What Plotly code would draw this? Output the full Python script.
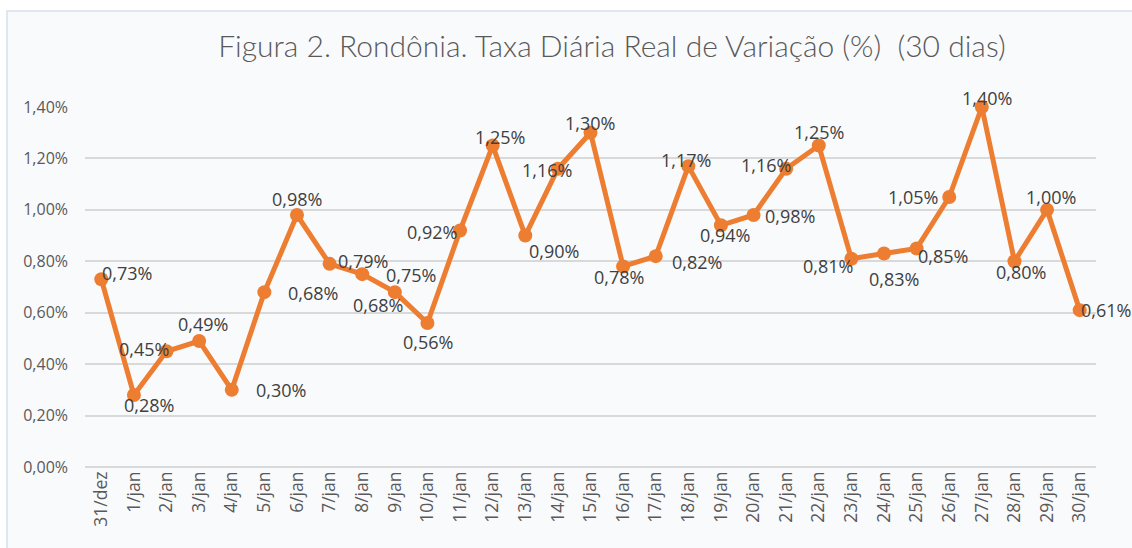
import plotly.graph_objects as go

categories = ["31/dez", "1/jan", "2/jan", "3/jan", "4/jan", "5/jan", "6/jan", "7/jan", "8/jan",
              "9/jan", "10/jan", "11/jan", "12/jan", "13/jan", "14/jan", "15/jan", "16/jan",
              "17/jan", "18/jan", "19/jan", "20/jan", "21/jan", "22/jan", "23/jan", "24/jan",
              "25/jan", "26/jan", "27/jan", "28/jan", "29/jan", "30/jan"]
values = [0.73, 0.28, 0.45, 0.49, 0.30, 0.68, 0.98, 0.79, 0.75, 0.68, 0.56, 0.92, 1.25, 0.90,
          1.16, 1.30, 0.78, 0.82, 1.17, 0.94, 0.98, 1.16, 1.25, 0.81, 0.83, 0.85, 1.05, 1.40,
          0.80, 1.00, 0.61]
y_ticks = [0.0, 0.2, 0.4, 0.6, 0.8, 1.0, 1.2, 1.4]

# label offsets (style): pixel shift of each data label from its point
label_dx = [26, 15, -23, 4, 49, 49, 0, 33, 49, -17, 1, -28, 7, 29, -11, -1, -4, 41, -2, 4,
            36, -20, 0, -23, 10, 26, -36, 5, 7, 4, 26]
label_dy = [-6, 10, -2, -17, 0, 1, -16, -3, 1, 13, 19, 2, -9, 15, 1, -10, 11, 6, -6, 10,
            1, -4, -14, 7, 25, 8, 0, -9, 11, -13, 0]

def pct(v):
    return f"{v:.2f}".replace(".", ",") + "%"

fig = go.Figure()
fig.add_trace(go.Scatter(
    x=categories, y=values, mode="lines+markers",
    line=dict(color="#ED7D31", width=5),
    marker=dict(color="#ED7D31", size=14),
    cliponaxis=False, hoverinfo="x+y",
))

for c, v, dx, dy in zip(categories, values, label_dx, label_dy):
    fig.add_annotation(x=c, y=v, text=pct(v), showarrow=False,
                       xshift=dx, yshift=-dy,
                       font=dict(family="Open Sans", size=18, color="#404040"))

FW, FH = 1132, 548
L, R, B, T = 85, 1096, 467, 107
W, H = R - L, B - T
fig.add_shape(type="rect", xref="paper", yref="paper", layer="below",
              x0=(7 - L) / W, x1=(1150 - L) / W, y0=(B - 570) / H, y1=(B - 11) / H,
              fillcolor="#F9FAFC", line=dict(color="#D6E0EE", width=1.5))

fig.update_layout(
    width=FW, height=FH,
    margin=dict(l=L, r=FW - R, t=T, b=FH - B, pad=0, autoexpand=False),
    paper_bgcolor="white", plot_bgcolor="rgba(0,0,0,0)",
    showlegend=False,
    title=dict(text="Figura 2. Rondônia. Taxa Diária Real de Variação (%)  (30 dias)",
               x=612 / FW, xanchor="center", xref="container",
               y=1 - 46 / FH, yanchor="middle", yref="container",
               font=dict(family="Lato", size=30, weight=300, color="#595959")),
    xaxis=dict(type="category", tickangle=-90, showgrid=False, showline=False,
               automargin=False, ticks="",
               tickfont=dict(family="Open Sans", size=17.5, color="#595959"),
               range=[-0.5, len(categories) - 0.5]),
    yaxis=dict(range=[0, 1.4], tickvals=y_ticks, automargin=False,
               ticktext=[pct(t) for t in y_ticks],
               showgrid=True, gridcolor="#D9D9D9", gridwidth=1.5,
               zeroline=True, zerolinecolor="#D9D9D9", zerolinewidth=1.5,
               showline=False, ticks="", ticklabelstandoff=16,
               tickfont=dict(family="Open Sans", size=16, color="#595959")),
)

fig.write_html("out.html", config={"displayModeBar": False},
               post_script="document.body.style.margin='0';document.body.style.overflow='hidden';")
